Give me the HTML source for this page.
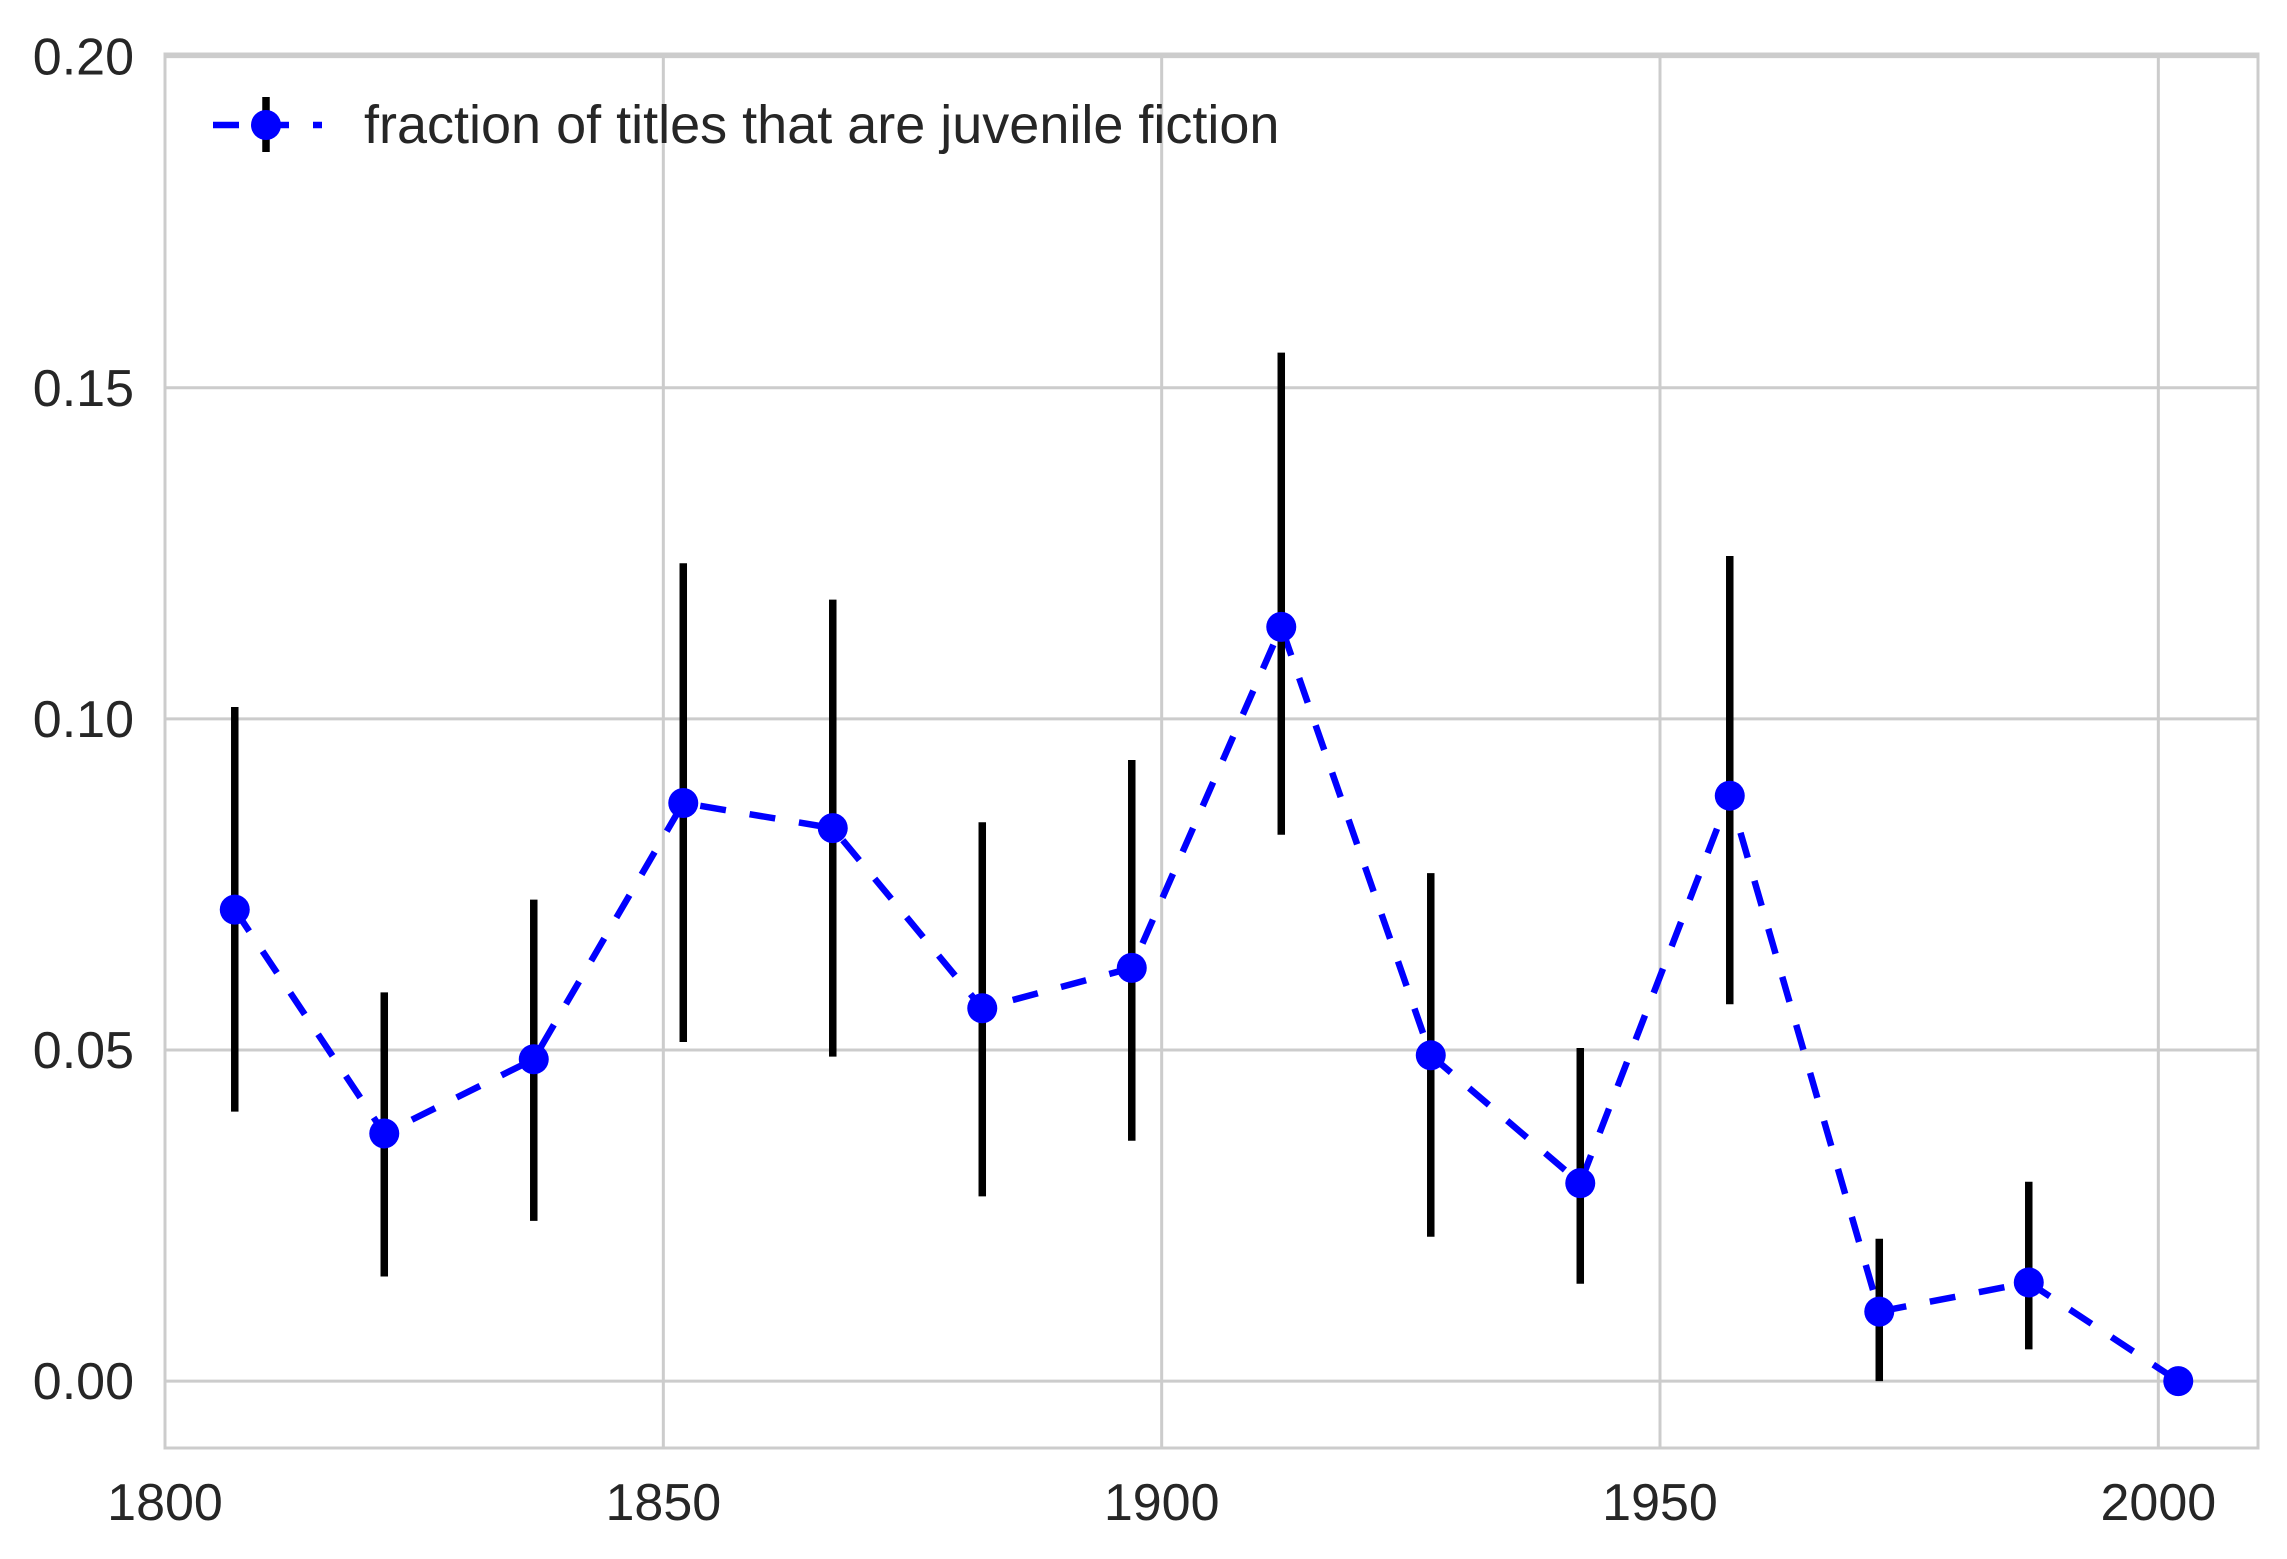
<!DOCTYPE html>
<html><head><meta charset="utf-8"><style>
html,body{margin:0;padding:0;background:#fff;}
svg{display:block;}
text{font-family:"Liberation Sans",Arial,sans-serif;fill:#262626;}
</style></head><body>
<svg id="chart" width="2287" height="1559" xmlns="http://www.w3.org/2000/svg">
<g id="grid"></g>
<g id="axes"></g>
<g id="series"></g>
<g id="legend">
  <line x1="213" y1="125" x2="322" y2="125" stroke="#0000ff" stroke-width="6.5" stroke-dasharray="26 24"/>
  <line x1="266" y1="97" x2="266" y2="152" stroke="#000" stroke-width="7.5"/>
  <circle cx="266" cy="125" r="15" fill="#0000ff"/>
  <text x="364" y="143" font-size="54">fraction of titles that are juvenile fiction</text>
</g>
</svg>
<script>
const years = [1807,1822,1837,1852,1867,1882,1897,1912,1927,1942,1957,1972,1987,2002];
const values = [0.0712,0.0374,0.0486,0.0873,0.0835,0.0563,0.0624,0.1139,0.0492,0.0299,0.0884,0.0105,0.0149,0.0];
const errLow = [0.0305,0.0216,0.0244,0.0361,0.0345,0.0284,0.0261,0.0314,0.0274,0.0152,0.0315,0.0105,0.0101,0.0];
const errHigh = [0.0306,0.0213,0.0241,0.0362,0.0345,0.0281,0.0314,0.0414,0.0275,0.0204,0.0362,0.0110,0.0152,0.0];
const xTicks = [1800,1850,1900,1950,2000];
const yTicks = [0.00,0.05,0.10,0.15,0.20];
const yTickLabels = ["0.00","0.05","0.10","0.15","0.20"];

const L=165,R=2258,T=54,B=1448;
const xMin=1800,xMax=2010,yMin=-0.0101,yMax=0.2004;
const X=v=>L+(v-xMin)/(xMax-xMin)*(R-L);
const Y=v=>B-(v-yMin)/(yMax-yMin)*(B-T);
const NS="http://www.w3.org/2000/svg";
function mk(tag,attrs,parent){const e=document.createElementNS(NS,tag);for(const k in attrs)e.setAttribute(k,attrs[k]);parent.appendChild(e);return e;}
const grid=document.getElementById('grid'),axes=document.getElementById('axes'),series=document.getElementById('series');

xTicks.forEach(t=>{
  const g=mk('line',{x1:X(t),x2:X(t),y1:T,y2:B,stroke:'#cccccc','stroke-width':3},grid);
  
  
  const tx=mk('text',{x:X(t),y:1520,'font-size':52,'text-anchor':'middle'},axes);
  tx.textContent=t;
  
  
});
yTicks.forEach((t,i)=>{
  const g=mk('line',{x1:L,x2:R,y1:Y(t),y2:Y(t),stroke:'#cccccc','stroke-width':3},grid);
  
  
  const tx=mk('text',{x:134,y:Y(t)+18,'font-size':52,'text-anchor':'end'},axes);
  tx.textContent=yTickLabels[i];
  
  
});
const frame=mk('rect',{x:L,y:T,width:R-L,height:B-T,fill:'none',stroke:'#cccccc','stroke-width':3},axes);



const pts=years.map((y,i)=>X(y)+','+Y(values[i])).join(' ');
const line=mk('polyline',{points:pts,fill:'none',stroke:'#0000ff','stroke-width':6.5,'stroke-dasharray':'26 24'},series);


years.forEach((y,i)=>{
  if(errLow[i]+errHigh[i]>0){
    const e=mk('line',{x1:X(y),x2:X(y),y1:Y(values[i]-errLow[i]),y2:Y(values[i]+errHigh[i]),stroke:'#000','stroke-width':7.5},series);
    
    
  }
});
years.forEach((y,i)=>{
  const c=mk('circle',{cx:X(y),cy:Y(values[i]),r:15,fill:'#0000ff'},series);
  
  
});
</script>
</body></html>
